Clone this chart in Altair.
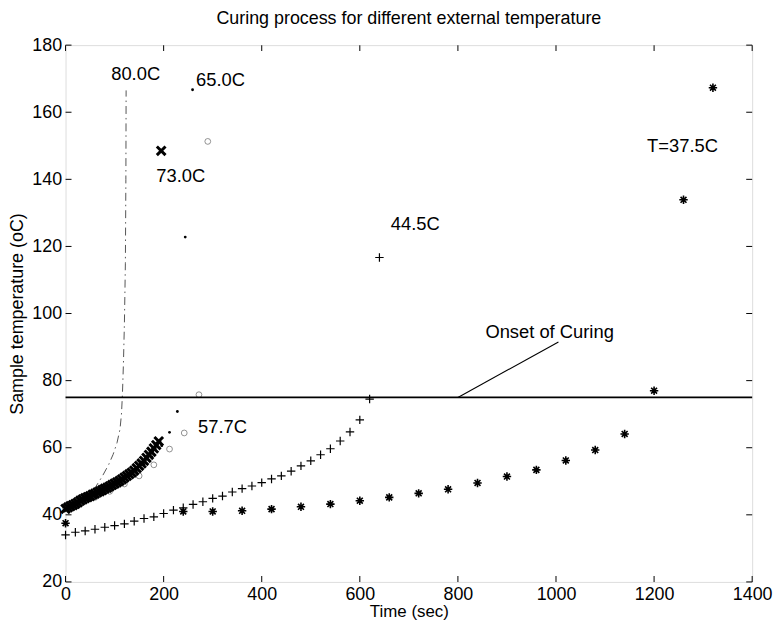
import altair as alt
import pandas as pd

FONT = "Liberation Sans"

# ---- axis ticks ----
x_ticks = [0, 200, 400, 600, 800, 1000, 1200, 1400]
y_ticks = [20, 40, 60, 80, 100, 120, 140, 160, 180]

# ---- T = 37.5C (asterisks) ----
t375_x = [0, 240, 300, 360, 420, 480, 540, 600, 660, 720, 780, 840, 900, 960,
          1020, 1080, 1140, 1200, 1260, 1320]
t375_y = [37.5, 41.0, 41.0, 41.2, 41.7, 42.4, 43.2, 44.2, 45.2, 46.4, 47.6, 49.5,
          51.4, 53.4, 56.2, 59.3, 64.1, 77.0, 133.9, 167.3]

# ---- 44.5C (plus) ----
t445_x = [0, 20, 40, 60, 80, 100, 120, 140, 160, 180, 200, 220, 240, 260, 280, 300,
          320, 340, 360, 380, 400, 420, 440, 460, 480, 500, 520, 540, 560, 580, 600,
          620, 640]
t445_y = [34.0, 34.8, 35.2, 35.7, 36.3, 36.8, 37.3, 38.1, 38.9, 39.4, 40.4, 41.4,
          42.1, 43.1, 43.9, 44.9, 45.6, 46.8, 47.8, 48.6, 49.6, 50.7, 51.6, 53.0,
          54.6, 56.1, 57.9, 59.7, 62.0, 64.7, 68.3, 74.5, 116.7]

# ---- 57.7C (open circles) ----
t577_x = [0, 30, 60, 90, 120, 150, 180, 212, 242, 272, 290]
t577_y = [42.0, 43.5, 45.2, 47.0, 49.2, 51.6, 54.9, 59.6, 64.4, 75.8, 151.3]

# ---- 65.0C (dots) ----
t650_x = [0, 16, 32, 48, 64, 80, 96, 112, 128, 144, 160, 176, 196, 212, 228, 244, 259]
t650_y = [42.0, 43.0, 44.0, 45.0, 46.2, 47.4, 48.6, 49.9, 51.3, 53.0, 55.0, 57.3,
          60.6, 64.6, 70.8, 122.8, 166.7]

# ---- 73.0C (x marks) ----
t730_x = [0, 5, 10, 15, 20, 25, 30, 35, 40, 45, 50, 55, 60, 65, 70, 75, 80, 85, 90,
          95, 100, 105, 110, 115, 120, 125, 130, 135, 140, 145, 150, 155, 160, 165,
          170, 175, 180, 185, 190, 195]
t730_y = [41.8, 42.2, 42.6, 42.9, 43.3, 43.7, 44.2, 44.6, 45.0, 45.3, 45.6, 46.0,
          46.3, 46.7, 47.0, 47.4, 47.8, 48.1, 48.5, 48.9, 49.3, 49.7, 50.1, 50.6,
          51.1, 51.6, 52.1, 52.6, 53.2, 53.9, 54.6, 55.3, 56.1, 57.0, 57.9, 58.8,
          59.8, 60.8, 61.9, 148.5]

# ---- 80.0C (dash-dot line) ----
t800_x = [0, 20, 40, 60, 75, 88, 97, 105, 111, 114, 116, 118, 120, 122, 123, 123.5]
t800_y = [41.5, 43.0, 45.0, 48.0, 51.5, 55.0, 58.0, 61.5, 65.5, 70.0, 76.0, 85.0,
          97.0, 115.0, 140.0, 166.5]

# ---- onset of curing ----
onset_y = [75]
arrow_x = [800]
arrow_y = [75]
arrow_x2 = [1005]
arrow_y2 = [91.5]

# ---- labels ----
label_text = ["80.0C", "65.0C", "73.0C", "57.7C", "44.5C", "T=37.5C", "Onset of Curing"]
label_x = [143, 316, 235, 320, 713, 1258, 987]
label_y = [171.4, 169.6, 141.0, 66.1, 126.7, 149.8, 94.5]

XS = alt.Scale(domain=[0, 1400], nice=False)
YS = alt.Scale(domain=[20, 180], nice=False)
XAX = alt.Axis(values=x_ticks, format="d", title="Time (sec)", ticks=False, domain=False,
               grid=False, labelFontSize=18, labelPadding=4, titleFontSize=17,
               titlePadding=0, labelFont=FONT, titleFont=FONT, titleFontWeight="normal",
               labelColor="black", titleColor="black", labelFlush=False)
YAX = alt.Axis(values=y_ticks, format="d", title="Sample temperature (oC)", ticks=False,
               domain=False, grid=False, labelFontSize=18, labelPadding=4,
               titleFontSize=18, titlePadding=5, labelFont=FONT, titleFont=FONT,
               titleFontWeight="normal", labelColor="black", titleColor="black",
               labelFlush=False)


def ex(field):
    return alt.X(f"{field}:Q", scale=XS, axis=XAX)


def ey(field):
    return alt.Y(f"{field}:Q", scale=YS, axis=YAX)


def df(xs, ys):
    return pd.DataFrame({"x": xs, "y": ys})


ASTER = "M-1,0L1,0M0,-1L0,1M-0.7,-0.7L0.7,0.7M-0.7,0.7L0.7,-0.7"
PLUS = "M-1,0L1,0M0,-1L0,1"
XMARK = "M-1,-1L1,1M-1,1L1,-1"

line80 = alt.Chart(df(t800_x, t800_y)).mark_line(
    color="#555555", strokeWidth=1, strokeDash=[8, 4, 1.5, 4]
).encode(x=ex("x"), y=ey("y"), order="x:Q")

circ = alt.Chart(df(t577_x, t577_y)).mark_point(
    shape="circle", filled=False, size=34, color="#777777", strokeWidth=0.8, opacity=1
).encode(x=ex("x"), y=ey("y"))

dots = alt.Chart(df(t650_x, t650_y)).mark_point(
    shape="circle", filled=True, size=8, color="black", opacity=1
).encode(x=ex("x"), y=ey("y"))

plus = alt.Chart(df(t445_x, t445_y)).mark_point(
    shape=PLUS, filled=False, size=72, color="black", strokeWidth=1.2, opacity=1
).encode(x=ex("x"), y=ey("y"))

aster = alt.Chart(df(t375_x, t375_y)).mark_point(
    shape=ASTER, filled=False, size=72, color="black", strokeWidth=1.6, opacity=1
).encode(x=ex("x"), y=ey("y"))

xm = alt.Chart(df(t730_x, t730_y)).mark_point(
    shape=XMARK, filled=False, size=76, color="black", strokeWidth=3, opacity=1
).encode(x=ex("x"), y=ey("y"))

hline = alt.Chart(pd.DataFrame({"y": onset_y})).mark_rule(
    color="black", strokeWidth=1.8
).encode(y=ey("y"))

arrow = alt.Chart(pd.DataFrame({"x": arrow_x, "y": arrow_y, "x2": arrow_x2, "y2": arrow_y2})).mark_rule(
    color="black", strokeWidth=1.1
).encode(x=ex("x"), y=ey("y"), x2="x2:Q", y2="y2:Q")

labels = alt.Chart(pd.DataFrame({"x": label_x, "y": label_y, "t": label_text})).mark_text(
    font=FONT, fontSize=18.5, color="black", align="center", baseline="middle"
).encode(x=ex("x"), y=ey("y"), text="t:N")

xt = pd.DataFrame({"v": x_ticks})
yt = pd.DataFrame({"v": y_ticks})
tick_b = alt.Chart(xt).mark_tick(orient="vertical", size=6, yOffset=-3, color="black", thickness=1, opacity=1).encode(
    x=ex("v"), y=alt.datum(20, scale=YS))
tick_t = alt.Chart(xt).mark_tick(orient="vertical", size=6, yOffset=3, color="black", thickness=1, opacity=1).encode(
    x=ex("v"), y=alt.datum(180, scale=YS))
tick_l = alt.Chart(yt).mark_tick(orient="horizontal", size=6, xOffset=3, color="black", thickness=1, opacity=1).encode(
    y=ey("v"), x=alt.datum(0, scale=XS))
tick_r = alt.Chart(yt).mark_tick(orient="horizontal", size=6, xOffset=-3, color="black", thickness=1, opacity=1).encode(
    y=ey("v"), x=alt.datum(1400, scale=XS))

chart = alt.layer(
    line80, circ, dots, plus, aster, xm, hline, arrow, labels,
    tick_b, tick_t, tick_l, tick_r
).properties(
    width=692, height=541,
    padding={"left": 58, "top": 35, "right": 22, "bottom": 42},
    autosize=alt.AutoSizeParams(type="none"),
    title=alt.Title("Curing process for different external temperature", font=FONT,
                    fontSize=18, fontWeight="normal", color="black", offset=8),
).configure_view(stroke="black", strokeWidth=1.4).configure(background="white")

chart.save("out.html", embed_options={"renderer": "svg", "actions": False})
